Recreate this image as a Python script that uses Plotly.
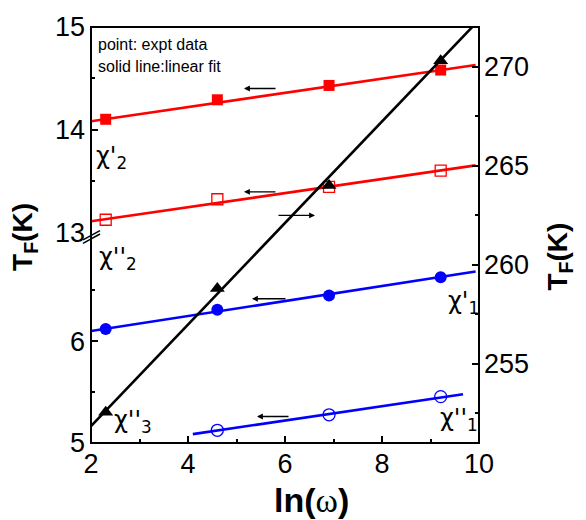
import plotly.graph_objects as go

# ---------------- data ----------------
ln_omega = [2.303, 4.605, 6.908, 9.210]
ln_omega_chi1_imag = [4.605, 6.908, 9.210]

chi2_real = [14.10, 14.29, 14.43, 14.58]     # filled squares, left (upper) axis
chi2_imag = [13.12, 13.32, 13.44, 13.60]     # open squares, left (upper) axis
chi1_real = [6.12, 6.31, 6.45, 6.63]         # filled circles, left (lower) axis
chi1_imag = [5.125, 5.277, 5.456]            # open circles, left (lower) axis
chi3_imag = [252.55, 258.8, 264.0, 270.3]    # triangles, right axis

# linear-fit line end points
fit_x_full = [2.0, 9.93]
fit_chi2_real = [14.08, 14.63]
fit_chi2_imag = [13.105, 13.65]
fit_chi1_real = [6.10, 6.685]
fit_x_chi1_imag = [4.1, 9.67]
fit_chi1_imag = [5.087, 5.48]
fit_x_chi3 = [2.0, 9.9]
fit_chi3_imag = [251.85, 272.1]

x_ticks = [2, 4, 6, 8, 10]
x_minor = [3, 5, 7, 9]
yl_ticks = [5, 6]
yl_minor = [5.5, 6.5]
yu_ticks = [13, 14, 15]
yu_minor = [13.5, 14.5]
yr_ticks = [255, 260, 265, 270]
yr_minor = [252.5, 257.5, 262.5, 267.5]

# ---------------- layout geometry ----------------
W, H = 586, 520
ML, MR, MT, MB = 91, 107, 19, 77
PW = W - ML - MR
PH = H - MT - MB


def pxx(px):
    return (px - ML) / PW


def pxy(py):
    return (H - MB - py) / PH


FONT = "Liberation Sans, Arial, sans-serif"
CHIFONT = "DejaVu Sans, Noto Sans, sans-serif"
RED = "#ff0000"
BLUE = "#0000ff"
LW = 2.6

fig = go.Figure()

# lower-left axis (y): chi'1, chi''1
fig.add_trace(go.Scatter(x=fit_x_full, y=fit_chi1_real, mode="lines",
                         line=dict(color=BLUE, width=LW), xaxis="x", yaxis="y"))
fig.add_trace(go.Scatter(x=ln_omega, y=chi1_real, mode="markers",
                         marker=dict(symbol="circle", size=12, color=BLUE),
                         xaxis="x", yaxis="y"))
fig.add_trace(go.Scatter(x=fit_x_chi1_imag, y=fit_chi1_imag, mode="lines",
                         line=dict(color=BLUE, width=LW), xaxis="x", yaxis="y"))
fig.add_trace(go.Scatter(x=ln_omega_chi1_imag, y=chi1_imag, mode="markers",
                         marker=dict(symbol="circle-open", size=12, color=BLUE,
                                     line=dict(width=1.3)),
                         xaxis="x", yaxis="y"))

# upper-left axis (y2): chi'2, chi''2
fig.add_trace(go.Scatter(x=fit_x_full, y=fit_chi2_real, mode="lines",
                         line=dict(color=RED, width=LW), xaxis="x", yaxis="y2"))
fig.add_trace(go.Scatter(x=ln_omega, y=chi2_real, mode="markers",
                         marker=dict(symbol="square", size=11, color=RED),
                         xaxis="x", yaxis="y2"))
fig.add_trace(go.Scatter(x=fit_x_full, y=fit_chi2_imag, mode="lines",
                         line=dict(color=RED, width=LW), xaxis="x", yaxis="y2"))
fig.add_trace(go.Scatter(x=ln_omega, y=chi2_imag, mode="markers",
                         marker=dict(symbol="square-open", size=11, color=RED,
                                     line=dict(width=1.3)),
                         xaxis="x", yaxis="y2"))

# right axis (y3): chi''3
fig.add_trace(go.Scatter(x=fit_x_chi3, y=fit_chi3_imag, mode="lines",
                         line=dict(color="black", width=LW), xaxis="x", yaxis="y3"))
fig.add_trace(go.Scatter(x=ln_omega, y=chi3_imag, mode="markers",
                         marker=dict(symbol="triangle-up", size=13, color="black"),
                         xaxis="x", yaxis="y3"))

tickfont = dict(family=FONT, size=27, color="black")
common = dict(showgrid=False, zeroline=False, showline=False, ticks="inside",
              ticklen=7, tickwidth=1.6, tickcolor="black", tickfont=tickfont,
              tickmode="array")
minor = dict(tickmode="array", ticks="inside", ticklen=4, tickwidth=1.6,
             tickcolor="black")

lower_top = 7.0
fig.update_layout(
    width=W, height=H,
    margin=dict(l=ML, r=MR, t=MT, b=MB, pad=0),
    paper_bgcolor="white", plot_bgcolor="rgba(0,0,0,0)",
    showlegend=False,
    xaxis=dict(domain=[0, 1], range=[2, 10], anchor="y", tickvals=x_ticks,
               minor=dict(tickvals=x_minor, **minor), ticklabelstandoff=2,
               **common),
    yaxis=dict(domain=[0, pxy(443 - (lower_top - 5) * 103.7)], range=[5, lower_top],
               anchor="x", side="left", tickvals=yl_ticks,
               minor=dict(tickvals=yl_minor, **minor), ticklabelstandoff=5,
               **common),
    yaxis2=dict(domain=[pxy(228), 1], range=[13, 15], anchor="x", side="left",
                tickvals=yu_ticks, minor=dict(tickvals=yu_minor, **minor),
                ticklabelstandoff=5, **common),
    yaxis3=dict(domain=[0, 1], range=[251, 272], anchor="x", side="right",
                tickvals=yr_ticks, minor=dict(tickvals=yr_minor, **minor),
                ticklabelstandoff=4, **common),
)

# frame and axis-break marks
shapes = [
    dict(type="rect", xref="paper", yref="paper", x0=0, x1=1, y0=0, y1=1,
         line=dict(color="black", width=2)),
    dict(type="line", xref="paper", yref="paper", x0=pxx(83), y0=pxy(236),
         x1=pxx(100), y1=pxy(226.5), line=dict(color="black", width=1.5)),
    dict(type="line", xref="paper", yref="paper", x0=pxx(83), y0=pxy(239.5),
         x1=pxx(100), y1=pxy(230), line=dict(color="black", width=1.5)),
]
fig.update_layout(shapes=shapes)

ann = []


def text(px, py, s, size, xanchor="left", angle=0, family=FONT):
    ann.append(dict(xref="paper", yref="paper", x=pxx(px), y=pxy(py), text=s,
                    showarrow=False, xanchor=xanchor, yanchor="middle",
                    textangle=angle,
                    font=dict(family=family, size=size, color="black")))


text(96, 37, "point: expt data", 16)
text(96, 59, "solid line:linear fit", 16)
text(94, 152, "χ'<sub>2</sub>", 24, family=CHIFONT)
text(97, 255, "χ''<sub>2</sub>", 24, family=CHIFONT)
text(112, 421, "χ''<sub>3</sub>", 24, family=CHIFONT)
text(446, 300, "χ'<sub>1</sub>", 24, family=CHIFONT)
text(438, 419, "χ''<sub>1</sub>", 24, family=CHIFONT)
text(311, 501,
     "<b>ln(</b><span style='font-family:Liberation Serif'>ω</span><b>)</b>",
     34, xanchor="center")
text(25, 233, "<b>T<sub>F</sub>(K)</b>", 28, xanchor="center", angle=-90)
text(560, 253, "<b>T<sub>F</sub>(K)</b>", 28, xanchor="center", angle=-90)


def arrow(head_x, head_y, tail_x):
    ann.append(dict(xref="paper", yref="paper", x=pxx(head_x), y=pxy(head_y),
                    ax=tail_x - head_x, ay=0, showarrow=True, arrowhead=2,
                    arrowsize=0.9, arrowwidth=1.3, arrowcolor="black", text=""))


arrow(244, 81.7, 277)
arrow(244, 187, 277)
arrow(315, 211, 277)
arrow(252, 296, 287)
arrow(257, 416, 290)

fig.update_layout(annotations=ann)
fig.write_html("out.html")
